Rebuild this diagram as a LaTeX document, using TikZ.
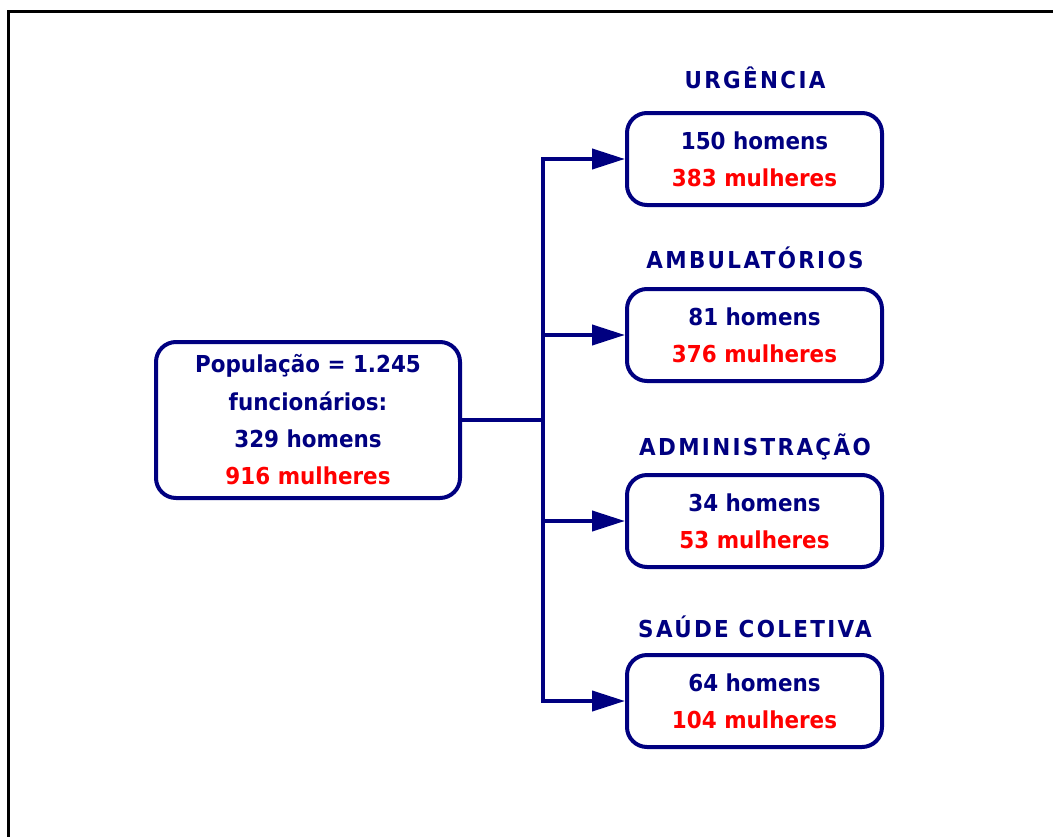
\documentclass[tikz,border=0pt]{standalone}
\usepackage{fontspec}
\setmainfont{DejaVu Sans}[FakeStretch=0.92]
\newfontfamily\titlefont{DejaVu Sans}[FakeStretch=0.92,LetterSpace=10]
\usetikzlibrary{arrows.meta}
\definecolor{navy}{RGB}{0,0,128}
\definecolor{vermelho}{RGB}{255,0,0}
\begin{document}
\begin{tikzpicture}[x=0.75pt,y=-0.75pt,
  txt/.style={font=\fontsize{17.5}{28}\selectfont\bfseries, text=navy},
  box/.style={txt, draw=navy, line width=3pt, rounded corners=15pt, align=center, inner sep=0pt,
    minimum width=191.25pt, minimum height=69pt},
  mainbox/.style={box, minimum width=228pt, minimum height=117pt},
  title/.style={font=\titlefont\fontsize{17.5}{28}\selectfont\bfseries, text=navy, anchor=base, inner sep=0pt},
  conn/.style={draw=navy, line width=3pt, line join=miter},
  arr/.style={conn, -{Triangle[length=24.75pt,width=15pt]}}]
\useasboundingbox (0,0) rectangle (1053,836);
\begin{scope}
\clip (0,0) rectangle (1053,836);
\draw[black, line width=2.25pt] (8.5,900) -- (8.5,11.5) -- (1100,11.5);
\end{scope}

\node[mainbox] (pop) at (308,420) {População = 1.245\\ funcionários:\\ 329 homens\\ \textcolor{vermelho}{916 mulheres}};

\node[box] (urg) at (754.5,159) {150 homens\\ \textcolor{vermelho}{383 mulheres}};
\node[box] (amb) at (754.5,335) {81 homens\\ \textcolor{vermelho}{376 mulheres}};
\node[box] (adm) at (754.5,521) {34 homens\\ \textcolor{vermelho}{53 mulheres}};
\node[box] (sau) at (754.5,701) {64 homens\\ \textcolor{vermelho}{104 mulheres}};

\node[title] (turg) at (755,88) {URGÊNCIA};
\node[title] (tamb) at (755,268) {AMBULATÓRIOS};
\node[title] (tadm) at (755,455) {ADMINISTRAÇÃO};
\node[title] (tsau) at (755,637) {SAÚDE COLETIVA};

\coordinate (j) at (543,420);
\draw[conn] (pop.east) -- (j);
\draw[arr] (j) |- (urg.west);
\draw[arr] (j) |- (sau.west);
\draw[arr] (j |- amb.west) -- (amb.west);
\draw[arr] (j |- adm.west) -- (adm.west);
\end{tikzpicture}
\end{document}
